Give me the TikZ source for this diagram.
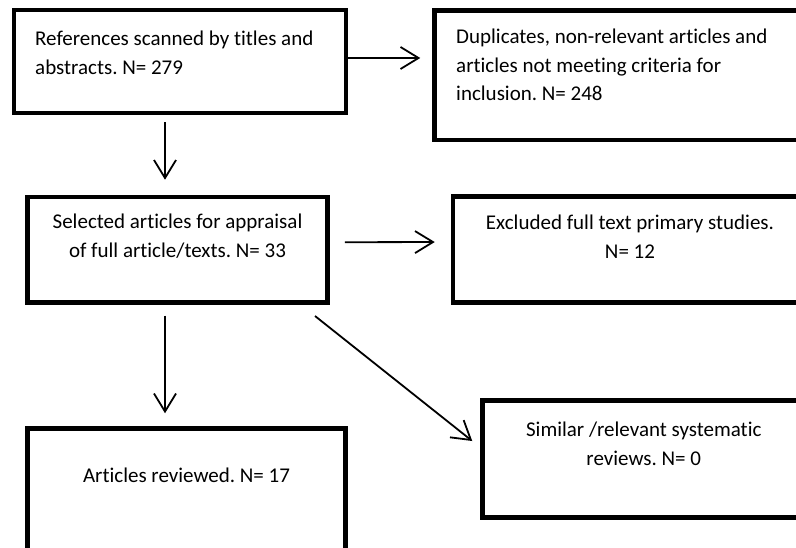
\documentclass[tikz,border=0pt]{standalone}
\usepackage{fontspec}
\setmainfont{Carlito}[Ligatures=NoCommon]
\frenchspacing
\usetikzlibrary{arrows.meta,positioning}

\tikzset{
  box/.style={draw, line width=4.5pt, inner sep=0pt},
  txt/.style={inner sep=0pt, font=\fontsize{21}{28.8}\selectfont},
  arr/.style={-{Straight Barb[length=18pt,width=22pt]}, line width=1.8pt},
}

\begin{document}
\begin{tikzpicture}[x=1pt,y=-1pt]
\useasboundingbox (0,0) rectangle (796,548);
\clip (0,0) rectangle (796,548);
% boxes
\node[box, minimum width=332pt, minimum height=103pt] (refs) at (180,61.5) {};
\node[box, minimum width=375.5pt, minimum height=129.5pt] (dup) at (622.25,75.25) {};
\node[box, minimum width=300pt, minimum height=105.5pt] (sel) at (177.5,249.75) {};
\node[box, minimum width=354pt, minimum height=106pt] (excl) at (630,249.5) {};
\node[box, minimum width=318pt, minimum height=141.5pt] (rev) at (186.5,499.25) {};
\node[box, minimum width=322.5pt, minimum height=117pt] (sim) at (643.75,459) {};
% texts
\node[txt, align=left, anchor=north west, below right=17.1pt and 23.25pt of refs.north west] (refst) {\strut References scanned by titles and\\abstracts. N= 279};
\node[txt, align=left, anchor=north west, below right=14.6pt and 23.75pt of dup.north west] (dupt) {\strut Duplicates, non-relevant articles and\\articles not meeting criteria for\\inclusion. N= 248};
\node[txt, align=center, below=13.1pt of sel.north] (selt) {\strut Selected articles for appraisal\\of full article/texts. N= 33};
\node[txt, align=center, below=14.6pt of excl.north] (exclt) {\strut Excluded full text primary studies.\\N= 12};
\node[txt, align=center, below=35.6pt of rev.north] (revt) {\strut Articles reviewed. N= 17};
\node[txt, align=center, below=17.6pt of sim.north] (simt) {\strut Similar /relevant systematic\\reviews. N= 0};
% arrows
\draw[arr, shorten >=12pt] ([yshift=3.5pt]refs.east) -- ([yshift=17.25pt]dup.west);
\draw[arr, shorten <=7pt, shorten >=15pt] ([xshift=-15pt]refs.south) -- ([xshift=-12.5pt]sel.north);
\draw[arr, shorten <=15pt, shorten >=16pt] ([yshift=7.5pt]sel.east) -- ([yshift=7.5pt]excl.west);
\draw[arr, shorten <=11pt, shorten >=13pt] ([xshift=-12.5pt]sel.south) -- ([xshift=-21.5pt]rev.north);
\draw[arr] ([xshift=-14.75pt, yshift=-11.25pt]sel.south east) -- ([xshift=-8pt, yshift=18pt]sim.west);
\end{tikzpicture}
\end{document}
